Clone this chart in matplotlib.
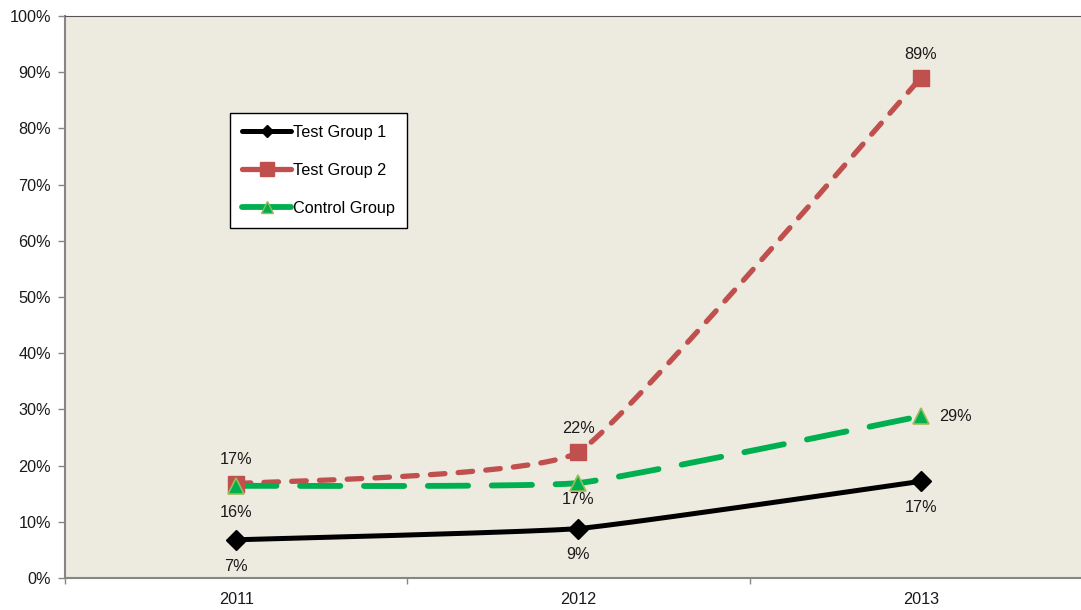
import numpy as np
import matplotlib
matplotlib.use("Agg")
import matplotlib.pyplot as plt
from matplotlib.ticker import FixedLocator, PercentFormatter
from matplotlib.lines import Line2D

plt.rcParams['font.family'] = ['Liberation Sans', 'DejaVu Sans']
plt.rcParams['lines.scale_dashes'] = False

years = ["2011", "2012", "2013"]
test_group_1 = [6.8, 8.8, 17.2]
test_group_2 = [16.8, 22.4, 89.0]
control_group = [16.4, 16.9, 28.8]
series_names = ["Test Group 1", "Test Group 2", "Control Group"]
yticks = list(range(0, 101, 10))


def smooth(xs, ys, k=1 / 16, n=80):
    """Light Bezier smoothing between points (control points from neighbour slopes)."""
    xs = np.asarray(xs, float)
    ys = np.asarray(ys, float)
    px, py = [], []
    m = len(xs)
    for i in range(m - 1):
        p0 = np.array([xs[max(i - 1, 0)], ys[max(i - 1, 0)]])
        p1 = np.array([xs[i], ys[i]])
        p2 = np.array([xs[i + 1], ys[i + 1]])
        p3 = np.array([xs[min(i + 2, m - 1)], ys[min(i + 2, m - 1)]])
        c1 = p1 + (p2 - p0) * k
        c2 = p2 - (p3 - p1) * k
        t = np.linspace(0, 1, n)[:, None]
        pts = ((1 - t) ** 3) * p1 + 3 * ((1 - t) ** 2) * t * c1 + 3 * (1 - t) * t ** 2 * c2 + t ** 3 * p2
        px.extend(pts[:, 0])
        py.extend(pts[:, 1])
    return np.array(px), np.array(py)


W, H = 1081, 610
fig = plt.figure(figsize=(W / 100, H / 100), dpi=100)
left, right, top, bottom = 65, 1092, 16, 578
ax = fig.add_axes([left / W, 1 - bottom / H, (right - left) / W, (bottom - top) / H])
ax.set_facecolor("#EDEAE0")

x = np.arange(len(years))

red = "#C0504D"
green = "#00B050"
fs = 11.7

# Test Group 2
sx, sy = smooth(x, test_group_2)
ax.plot(sx, sy, color=red, lw=3.8, dashes=(10.5, 9.5), dash_capstyle='round', zorder=3)
ax.plot(x, test_group_2, ls='none', marker='s', ms=11, color=red, mec=red, zorder=4)

# Control Group
sx, sy = smooth(x, control_group)
ax.plot(sx, sy, color=green, lw=4.2, dashes=(29, 17), dash_capstyle='round', zorder=3)
ax.plot(x, control_group, ls='none', marker='^', ms=12, color=green, mec="#9BBB59", mew=1.2, zorder=4)

# Test Group 1
sx, sy = smooth(x, test_group_1)
ax.plot(sx, sy, color='black', lw=3.6, solid_capstyle='round', zorder=5)
ax.plot(x, test_group_1, ls='none', marker='D', ms=10, color='black', zorder=6)

lab_kw = dict(textcoords='offset points', fontsize=fs, color='#1a1a1a', ha='center', va='center')
for xi, v in zip(x, test_group_1):
    ax.annotate(f"{round(v)}%", (xi, v), xytext=(0, -19), **lab_kw)
for xi, v in zip(x, test_group_2):
    ax.annotate(f"{round(v)}%", (xi, v), xytext=(0, 17), **lab_kw)
ctrl_offsets = [(0, -19), (0, -12), (25, 0)]
for xi, v, off in zip(x, control_group, ctrl_offsets):
    ax.annotate(f"{round(v)}%", (xi, v), xytext=off, **lab_kw)

ax.set_xlim(-0.5, 2.5)
ax.set_ylim(0, 100)
ax.yaxis.set_major_locator(FixedLocator(yticks))
ax.yaxis.set_major_formatter(PercentFormatter(decimals=0))
ax.set_xticks(x)
ax.set_xticklabels(years)
ax.xaxis.set_minor_locator(FixedLocator([-0.5, 0.5, 1.5, 2.5]))
ax.tick_params(axis='x', which='major', length=0, pad=10, labelsize=fs, labelcolor='#1a1a1a')
ax.tick_params(axis='x', which='minor', length=4, color='#868686', width=1)
ax.tick_params(axis='y', which='major', length=5, color='#868686', width=1, labelsize=fs,
               labelcolor='#1a1a1a', pad=5)

for s in ['left', 'bottom']:
    ax.spines[s].set_color('#868686')
    ax.spines[s].set_linewidth(1.5)
ax.spines['top'].set_color('#555555')
ax.spines['top'].set_linewidth(0.8)
ax.spines['right'].set_visible(False)

handles = [
    Line2D([], [], color='black', lw=3.6, marker='D', ms=6, solid_capstyle='round'),
    Line2D([], [], color=red, lw=3.8, marker='s', ms=10, solid_capstyle='round'),
    Line2D([], [], color=green, lw=4.2, marker='^', ms=9, mec="#9BBB59", solid_capstyle='round'),
]
leg = ax.legend(handles, series_names, loc='upper left',
                bbox_to_anchor=((230 - left) / (right - left), 1 - (113 - top) / (bottom - top)),
                frameon=True, fancybox=False, edgecolor='black', facecolor='white', framealpha=1,
                fontsize=fs, handlelength=3.0, handletextpad=0.15, labelspacing=1.4,
                borderpad=0.75, borderaxespad=0)
leg.get_frame().set_linewidth(1.0)

fig.savefig("out.png", dpi=100)
